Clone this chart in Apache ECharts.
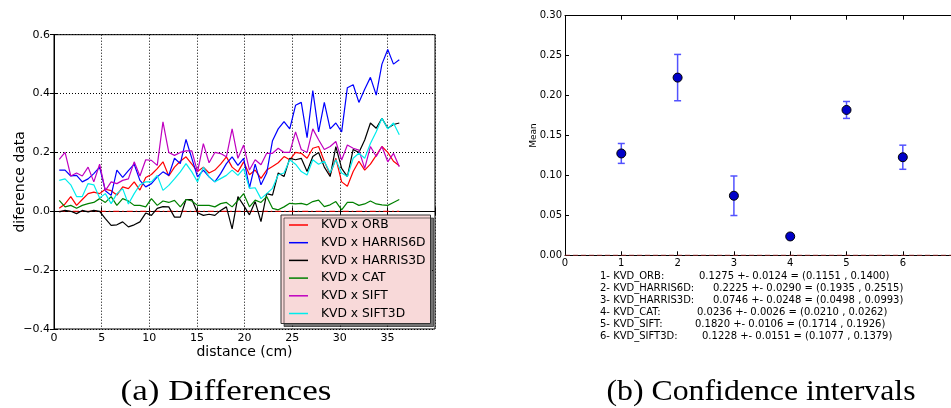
<!DOCTYPE html>
<html>
<head>
<meta charset="utf-8">
<script src="https://cdn.jsdelivr.net/npm/echarts@6/dist/echarts.min.js"></script>
<style>
html,body{margin:0;padding:0;background:#fff;}
#c{width:951px;height:408px;}
</style>
</head>
<body>
<div id="c"></div>
<script>
// ---------- data: panel (a) ----------
const distances = [0.55,1.16,1.76,2.37,2.97,3.58,4.18,4.79,5.39,6.0,6.6,7.21,7.81,8.42,9.02,9.63,10.23,10.84,11.44,12.05,12.65,13.26,13.86,14.47,15.07,15.68,16.28,16.89,17.49,18.1,18.7,19.31,19.91,20.52,21.12,21.73,22.33,22.94,23.54,24.15,24.75,25.36,25.96,26.57,27.17,27.78,28.38,28.99,29.59,30.2,30.8,31.41,32.01,32.62,33.22,33.83,34.43,35.04,35.64,36.25];
const orb = [0.01,0.025,0.05,0.02,0.04,0.06,0.065,0.06,0.075,0.07,0.055,0.083,0.077,0.1,0.072,0.115,0.125,0.145,0.168,0.12,0.15,0.17,0.185,0.16,0.135,0.15,0.13,0.14,0.16,0.185,0.15,0.134,0.168,0.124,0.14,0.112,0.14,0.152,0.165,0.186,0.175,0.2,0.197,0.18,0.214,0.22,0.17,0.124,0.18,0.1,0.085,0.135,0.17,0.14,0.16,0.19,0.22,0.2,0.17,0.155];
const harris6d = [0.14,0.14,0.12,0.122,0.1,0.11,0.128,0.15,0.07,0.054,0.14,0.115,0.138,0.16,0.105,0.083,0.094,0.117,0.134,0.122,0.18,0.162,0.244,0.18,0.117,0.14,0.117,0.1,0.128,0.162,0.185,0.156,0.18,0.08,0.16,0.09,0.13,0.24,0.28,0.305,0.28,0.36,0.37,0.25,0.41,0.27,0.37,0.28,0.3,0.27,0.42,0.43,0.37,0.415,0.455,0.395,0.5,0.55,0.5,0.515];
const harris3d = [-0.002,0.003,0.0,-0.008,0.003,-0.002,0.003,0.0,-0.025,-0.048,-0.046,-0.036,-0.053,-0.046,-0.036,-0.006,-0.014,0.01,0.016,0.015,-0.02,-0.02,0.04,0.04,-0.005,-0.014,-0.01,-0.014,0.003,0.015,-0.06,0.05,0.02,-0.012,0.033,-0.035,0.06,0.055,0.13,0.118,0.18,0.175,0.18,0.135,0.186,0.2,0.15,0.118,0.22,0.146,0.118,0.21,0.2,0.242,0.3,0.282,0.316,0.282,0.295,0.3];
const cat = [0.037,0.015,0.02,0.01,0.02,0.026,0.03,0.043,0.03,0.05,0.02,0.043,0.035,0.02,0.02,0.015,0.043,0.02,0.035,0.03,0.037,0.015,0.04,0.035,0.02,0.02,0.02,0.015,0.026,0.03,0.015,0.037,0.06,0.015,0.038,0.03,0.05,0.01,0.005,0.015,0.027,0.025,0.027,0.022,0.033,0.038,0.016,0.022,0.033,0.005,0.03,0.03,0.02,0.025,0.035,0.025,0.022,0.02,0.03,0.04];
const sift = [0.176,0.2,0.12,0.13,0.12,0.15,0.1,0.16,0.07,0.1,0.094,0.105,0.11,0.168,0.12,0.175,0.173,0.156,0.304,0.2,0.19,0.2,0.205,0.205,0.134,0.23,0.165,0.2,0.196,0.185,0.28,0.18,0.225,0.14,0.175,0.158,0.197,0.197,0.214,0.2,0.2,0.27,0.21,0.2,0.28,0.243,0.21,0.22,0.237,0.174,0.225,0.214,0.208,0.146,0.22,0.186,0.22,0.168,0.197,0.151];
const sift3d = [0.105,0.11,0.09,0.05,0.05,0.094,0.09,0.045,0.06,0.026,0.06,0.077,0.025,0.06,0.09,0.1,0.1,0.122,0.071,0.088,0.11,0.134,0.162,0.134,0.1,0.15,0.117,0.1,0.111,0.122,0.14,0.122,0.145,0.078,0.08,0.043,0.06,0.078,0.124,0.13,0.175,0.16,0.135,0.123,0.175,0.16,0.17,0.13,0.175,0.13,0.118,0.18,0.197,0.18,0.23,0.27,0.316,0.28,0.3,0.26];
const seriesNames = ['KVD x ORB','KVD x HARRIS6D','KVD x HARRIS3D','KVD x CAT','KVD x SIFT','KVD x SIFT3D'];

// ---------- data: panel (b) ----------
const ciIndex = [1,2,3,4,5,6];
const ciNames = ['KVD_ORB','KVD_HARRIS6D','KVD_HARRIS3D','KVD_CAT','KVD_SIFT','KVD_SIFT3D'];
const ciMean = [0.1275,0.2225,0.0746,0.0236,0.1820,0.1228];
const ciHalf = [0.0124,0.0290,0.0248,0.0026,0.0106,0.0151];
const ciLow  = [0.1151,0.1935,0.0498,0.0210,0.1714,0.1077];
const ciHigh = [0.1400,0.2515,0.0993,0.0262,0.1926,0.1379];

// ---------- styling ----------
const colors = ['#ff0000','#0000ff','#000000','#008000','#bf00bf','#00ecec'];
const seriesValues = [orb,harris6d,harris3d,cat,sift,sift3d];
const FONT = 'DejaVu Sans';
const minus = s => String(s).replace('-', '\u2212');

const chart = echarts.init(document.getElementById('c'), null, {renderer:'canvas'});

const lineSeries = seriesValues.map((vals, k) => ({
  name: seriesNames[k], type: 'line', xAxisIndex: 0, yAxisIndex: 0,
  data: distances.map((d, i) => [d, vals[i]]),
  symbol: 'none', silent: true, animation: false,
  lineStyle: {color: colors[k], width: 1.2}, itemStyle: {color: colors[k]}, z: 3
}));

const zeroLine = {
  type: 'line', xAxisIndex: 0, yAxisIndex: 0, symbol: 'none', silent: true, animation: false,
  data: [[distances[0], 0], [distances[distances.length - 1], 0]],
  lineStyle: {color: '#ff0000', width: 1, type: [6, 3, 1.5, 3]}, z: 2
};

const errSeries = {
  type: 'custom', xAxisIndex: 1, yAxisIndex: 1, silent: true, animation: false,
  data: ciIndex.map((x, i) => [x, ciLow[i], ciHigh[i]]),
  renderItem: function (params, api) {
    const x = api.value(0);
    const p1 = api.coord([x, api.value(1)]);
    const p2 = api.coord([x, api.value(2)]);
    const cw = 3.5;
    const st = {stroke: '#5252ff', lineWidth: 1.5};
    return {type: 'group', children: [
      {type: 'line', shape: {x1: p1[0], y1: p1[1], x2: p2[0], y2: p2[1]}, style: st},
      {type: 'line', shape: {x1: p1[0] - cw, y1: p1[1], x2: p1[0] + cw, y2: p1[1]}, style: st},
      {type: 'line', shape: {x1: p2[0] - cw, y1: p2[1], x2: p2[0] + cw, y2: p2[1]}, style: st}
    ]};
  }, z: 3
};

const meanSeries = {
  type: 'scatter', xAxisIndex: 1, yAxisIndex: 1, silent: true, animation: false,
  data: ciIndex.map((x, i) => [x, ciMean[i]]),
  symbol: 'circle', symbolSize: 9,
  itemStyle: {color: '#0000c8', borderColor: '#000', borderWidth: 1, opacity: 1}, z: 4
};

const zeroLine2 = {
  type: 'line', xAxisIndex: 1, yAxisIndex: 1, symbol: 'none', silent: true, animation: false,
  data: [[0, 0], [7, 0]],
  lineStyle: {color: '#a03030', width: 1, type: [5, 3]}, z: 5
};

const tickLabel = (sz) => ({color: '#000', fontFamily: FONT, fontSize: sz});

// text block under panel (b)
const valueX = [699, 713, 713, 697, 695, 702];
const textGraphics = [];
ciNames.forEach((n, i) => {
  const y = 277 + i * 12;
  textGraphics.push({type: 'text', left: 600, top: y - 6, silent: true,
    style: {text: ciIndex[i] + '- ' + n + ':', font: '10px ' + FONT, fill: '#000'}});
  textGraphics.push({type: 'text', left: valueX[i], top: y - 6, silent: true,
    style: {text: ciMean[i].toFixed(4) + ' +- ' + ciHalf[i].toFixed(4) + ' = (' + ciLow[i].toFixed(4) + ' , ' + ciHigh[i].toFixed(4) + ')',
      font: '10px ' + FONT, fill: '#000'}});
});
textGraphics.push({type: 'text', x: 226, y: 392, scaleX: 1.17, silent: true,
  style: {text: '(a) Differences', font: '30px "Liberation Serif"', fill: '#000',
    textAlign: 'center', textVerticalAlign: 'middle', align: 'center', verticalAlign: 'middle'}});
textGraphics.push({type: 'text', x: 761, y: 392, scaleX: 1.06, silent: true,
  style: {text: '(b) Confidence intervals', font: '30px "Liberation Serif"', fill: '#000',
    textAlign: 'center', textVerticalAlign: 'middle', align: 'center', verticalAlign: 'middle'}});

const option = {
  animation: false,
  backgroundColor: '#fff',
  grid: [
    {left: 54, top: 34.7, width: 381, height: 294.3, show: true, borderColor: '#000', borderWidth: 1, containLabel: false},
    {left: 565, top: 15.7, width: 386, height: 239.6, show: false, containLabel: false}
  ],
  legend: {
    data: seriesNames, orient: 'vertical', left: 281, top: 215,
    icon: 'rect', itemWidth: 19, itemHeight: 1.5, itemGap: 3.7,
    padding: [3, 5, 3, 8],
    backgroundColor: '#f8d9d9', borderColor: '#333', borderWidth: 1,
    shadowColor: 'rgba(0,0,0,0.55)', shadowOffsetX: 3, shadowOffsetY: 3, shadowBlur: 0,
    textStyle: {color: '#000', fontFamily: FONT, fontSize: 12.3, lineHeight: 14, padding: [0, 0, 0, 8]},
    selectedMode: false
  },
  xAxis: [
    {type: 'value', gridIndex: 0, min: 0, max: 40, interval: 5, position: 'bottom',
     name: 'distance (cm)', nameLocation: 'middle', nameGap: 16, nameMoveOverlap: false,
     nameTextStyle: {color: '#000', fontFamily: FONT, fontSize: 14},
     axisLine: {show: true, lineStyle: {color: '#000'}},
     axisTick: {show: true, inside: true, length: 4, lineStyle: {color: '#000'}},
     axisLabel: Object.assign(tickLabel(11), {margin: 4, formatter: v => v >= 40 ? '' : String(v)}),
     splitLine: {show: true, lineStyle: {color: '#000', type: [1, 2], width: 1}}},
    {type: 'value', gridIndex: 1, min: 0, max: 6.856, interval: 1, position: 'bottom',
     axisLine: {show: true, lineStyle: {color: '#000'}},
     axisTick: {show: true, inside: true, length: 4, lineStyle: {color: '#000'}},
     axisLabel: Object.assign(tickLabel(10), {margin: 3, showMaxLabel: false, formatter: v => v > 6.5 ? '' : String(v)}),
     splitLine: {show: false}},
    {type: 'value', gridIndex: 0, min: 0, max: 40, interval: 5, position: 'top',
     axisLine: {show: false}, axisLabel: {show: false}, splitLine: {show: false},
     axisTick: {show: true, inside: true, length: 4, lineStyle: {color: '#000'}}},
    {type: 'value', gridIndex: 1, min: 0, max: 6.856, interval: 1, position: 'top',
     axisLine: {show: true, lineStyle: {color: '#000'}}, axisLabel: {show: false}, splitLine: {show: false},
     axisTick: {show: true, inside: true, length: 4, lineStyle: {color: '#000'}}}
  ],
  yAxis: [
    {type: 'value', gridIndex: 0, min: -0.4, max: 0.6, interval: 0.2, position: 'left',
     name: 'diference data', nameLocation: 'middle', nameGap: 27, nameRotate: 90, nameMoveOverlap: false,
     nameTextStyle: {color: '#000', fontFamily: FONT, fontSize: 14},
     axisLine: {show: true, lineStyle: {color: '#000'}},
     axisTick: {show: true, inside: true, length: 4, lineStyle: {color: '#000'}},
     axisLabel: Object.assign(tickLabel(11), {margin: 4, formatter: v => minus((Math.round(v * 10) / 10).toFixed(1))}),
     splitLine: {show: true, lineStyle: {color: '#000', type: [1, 2], width: 1}}},
    {type: 'value', gridIndex: 1, min: 0, max: 0.3, interval: 0.05, position: 'left',
     name: 'Mean', nameLocation: 'middle', nameGap: 27, nameRotate: 90, nameMoveOverlap: false,
     nameTextStyle: {color: '#000', fontFamily: FONT, fontSize: 9},
     axisLine: {show: true, lineStyle: {color: '#000'}},
     axisTick: {show: true, inside: true, length: 4, lineStyle: {color: '#000'}},
     axisLabel: Object.assign(tickLabel(10), {margin: 3, formatter: v => v.toFixed(2)}),
     splitLine: {show: false}},
    {type: 'value', gridIndex: 0, min: -0.4, max: 0.6, interval: 0.2, position: 'right',
     axisLine: {show: false}, axisLabel: {show: false}, splitLine: {show: false},
     axisTick: {show: true, inside: true, length: 4, lineStyle: {color: '#000'}}}
  ],
  series: [zeroLine].concat(lineSeries, [zeroLine2, errSeries, meanSeries]),
  graphic: {elements: textGraphics}
};
chart.setOption(option);
</script>
</body>
</html>
